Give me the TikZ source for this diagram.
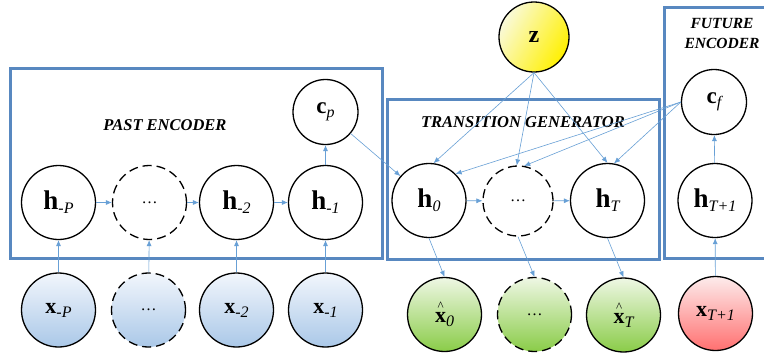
\documentclass[tikz,border=0pt]{standalone}
\usepackage{fontspec}
\setmainfont{Liberation Serif}
\usetikzlibrary{arrows.meta}
\definecolor{boxc}{RGB}{88,136,192}
\definecolor{arrc}{RGB}{104,160,214}
\definecolor{blutop}{RGB}{242,246,252}
\definecolor{blubot}{RGB}{170,200,232}
\definecolor{grntop}{RGB}{238,247,228}
\definecolor{grnbot}{RGB}{138,204,72}
\definecolor{redtop}{RGB}{253,236,236}
\definecolor{redbot}{RGB}{255,112,112}
\definecolor{yeltop}{RGB}{250,250,218}
\definecolor{yelbot}{RGB}{255,240,0}
\newcommand{\hlab}[1]{{\fontsize{27}{27}\selectfont\bfseries h}{\fontsize{16}{16}\selectfont\raisebox{-4pt}{\itshape #1}}}
\newcommand{\xlab}[1]{{\fontsize{22}{22}\selectfont\bfseries x}{\fontsize{16}{16}\selectfont\raisebox{-4pt}{\itshape #1}}}
\newcommand{\xhatlab}[1]{\makebox[0pt][l]{\hspace{2.5pt}\raisebox{12pt}{\fontsize{13}{13}\selectfont\textasciicircum}}\xlab{#1}}
\newcommand{\clab}[1]{{\fontsize{23}{23}\selectfont\bfseries c}{\fontsize{16}{16}\selectfont\raisebox{-4pt}{\itshape #1}}}
\newcommand{\dotslab}{{\fontsize{16}{16}\selectfont …}}
\tikzset{
  nd/.style={circle, draw=black, line width=1.3pt, minimum size=74pt, inner sep=0pt, fill=white},
  dsh/.style={dash pattern=on 9pt off 5pt},
  blu/.style={nd, top color=blutop, bottom color=blubot},
  grn/.style={nd, top color=grntop, bottom color=grnbot},
  rd/.style={nd, top color=redtop, bottom color=redbot},
  yel/.style={nd, minimum size=70pt, left color=yeltop, right color=yelbot, shading angle=60},
  ctx/.style={nd, minimum size=65pt},
  boxline/.style={draw=boxc, line width=3pt},
  boxtitle/.style={font=\fontsize{16.5}{20}\selectfont\bfseries\itshape, inner sep=0pt},
  conn/.style={draw=arrc, line width=0.6pt, -{Latex[length=6pt,width=5pt]}}
}
\begin{document}
\begin{tikzpicture}[x=1pt,y=-1pt]
\clip (0,0) rectangle (764,354);
\fill[white] (0,0) rectangle (764,354);
% boxes
\draw[boxline] (10,68) rectangle (382,258);
\draw[boxline] (387,99) rectangle (659,259);
\draw[boxline] (664,7) rectangle (800,258);
\node[boxtitle] (tpast) at (165,125) {PAST ENCODER};
\node[boxtitle] (ttrans) at (523,122) {TRANSITION GENERATOR};
\node[boxtitle, align=center, font=\fontsize{15.5}{20}\selectfont\bfseries\itshape] (tfut) at (722,33) {FUTURE\\ENCODER};
% past encoder
\node[nd] (hP) at (58.5,202.5) {\hlab{-P}};
\node[nd, dsh] (hd1) at (149.5,202.5) {\dotslab};
\node[nd] (h2) at (236.5,202.5) {\hlab{-2}};
\node[nd] (h1) at (325.5,202.5) {\hlab{-1}};
\node[ctx] (cp) at (325.5,112) {\clab{p}};
\node[blu] (xP) at (58.5,310) {\xlab{-P}};
\node[blu, dsh] (xd1) at (148.5,310) {\dotslab};
\node[blu] (x2) at (236.5,310) {\xlab{-2}};
\node[blu] (x1) at (325.5,310) {\xlab{-1}};
% transition generator
\node[nd] (h0) at (429,200.5) {\hlab{0}};
\node[nd, dsh, minimum size=70pt] (hd2) at (518,201) {\dotslab};
\node[nd] (hT) at (607.5,200.5) {\hlab{T}};
\node[yel] (z) at (534,37) {{\fontsize{24}{24}\selectfont\bfseries z}};
\node[grn] (x0) at (444.5,314.5) {\xhatlab{0}};
\node[grn, dsh] (xd2) at (534.5,314.5) {\dotslab};
\node[grn] (xT) at (623.5,315) {\xhatlab{T}};
% future encoder
\node[ctx] (cf) at (714,102) {\clab{f}};
\node[nd] (hT1) at (715,200.5) {\hlab{T+1}};
\node[rd] (xT1) at (715.5,313.5) {\xlab{T+1}};
% connectors
\draw[conn] (xP) -- (hP);
\draw[conn] (xd1) -- (hd1);
\draw[conn] (x2) -- (h2);
\draw[conn] (x1) -- (h1);
\draw[conn] (hP) -- (hd1);
\draw[conn] (hd1) -- (h2);
\draw[conn] (h2) -- (h1);
\draw[conn] (h1) -- (cp);
\draw[conn] (cp) -- (h0);
\draw[conn] (z.south) -- (h0.83);
\draw[conn] (z.south) -- (hd2.92);
\draw[conn] (z.south) -- (hT.90);
\draw[conn] (cf.west) -- (h0.45);
\draw[conn] (cf.west) -- (hd2.80);
\draw[conn] (cf.west) -- (hT.80);
\draw[conn] (h0) -- (hd2);
\draw[conn] (hd2) -- (hT);
\draw[conn] (h0.south) -- (x0.north);
\draw[conn] (hd2.south) -- (xd2.north);
\draw[conn] (hT.south) -- (xT.north);
\draw[conn] (xT1) -- (hT1);
\draw[conn] (hT1) -- (cf);
\end{tikzpicture}
\end{document}
